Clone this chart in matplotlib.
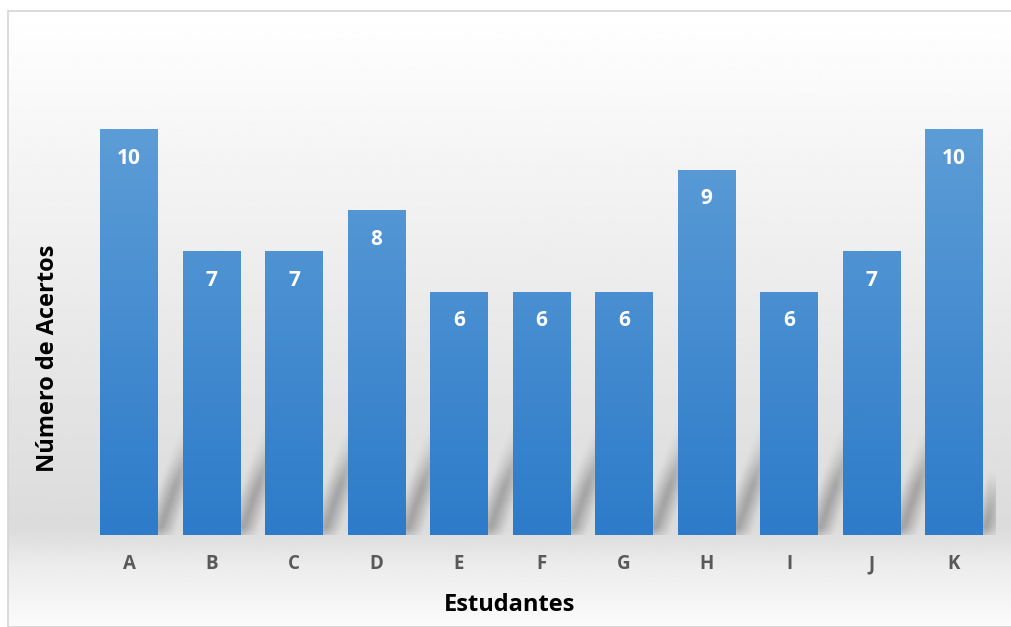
"""Bar chart: número de acertos por estudante."""

import matplotlib

matplotlib.use("Agg")
import matplotlib.pyplot as plt
import numpy as np
from matplotlib.colors import LinearSegmentedColormap
from matplotlib.patches import Rectangle

students = ["A", "B", "C", "D", "E", "F", "G", "H", "I", "J", "K"]
hits = [10, 7, 7, 8, 6, 6, 6, 9, 6, 7, 10]

plt.rcParams["font.family"] = ["Open Sans", "DejaVu Sans"]

BAR_TOP = np.array([93, 157, 215]) / 255
BAR_BOTTOM = np.array([45, 123, 201]) / 255
BAR_WIDTH = 0.70


def box_blur(arr, k):
    kernel = np.ones(k) / k
    arr = np.apply_along_axis(lambda r: np.convolve(r, kernel, mode="same"), 1, arr)
    arr = np.apply_along_axis(lambda c: np.convolve(c, kernel, mode="same"), 0, arr)
    return arr


fig = plt.figure(figsize=(10.11, 6.27), dpi=100, facecolor="white")

# background gradient inside the chart frame
bg_ax = fig.add_axes([8 / 1011, 0, 1 - 8 / 1011, 1 - 11 / 627], zorder=0)
ys = np.linspace(0, 1, 400)  # 0 = top, 1 = bottom
stops_y = [0.0, 0.2, 0.38, 0.68, 0.84, 0.9, 1.0]
stops_v = [1.0, 0.965, 0.935, 0.885, 0.86, 0.925, 0.985]
grad = np.interp(ys, stops_y, stops_v)
bg_ax.imshow(grad[:, None], aspect="auto", cmap="gray", vmin=0, vmax=1,
             extent=[0, 1, 0, 1], interpolation="bilinear")
bg_ax.set_xlim(0, 1)
bg_ax.set_ylim(0, 1)
bg_ax.axis("off")
fig.patches.append(Rectangle((8 / 1011, 0), 1, 1 - 11 / 627, transform=fig.transFigure,
                             fill=False, edgecolor="#d4d4d4", linewidth=1.2, zorder=1))

ax = fig.add_axes([87.75 / 1011, 92 / 627, 907.5 / 1011, 487 / 627], zorder=2)
ax.patch.set_alpha(0)
x = np.arange(len(students))
ax.set_xlim(-0.5, len(students) - 0.5)
ax.set_ylim(0, 12)

# soft slanted shadow band to the right of each bar
nx, ny = 900, 480
gx = np.linspace(-0.5, len(students) - 0.5, nx)
gy = np.linspace(0, 12, ny)
X, Y = np.meshgrid(gx, gy)
band_h, slope, half_w = 2.8, 0.17, 0.10
alpha = np.zeros_like(X)
for xi in x:
    edge = xi + BAR_WIDTH / 2 + slope * Y
    inside = (Y <= band_h) & (np.abs(X - edge) <= half_w)
    fade = np.clip((band_h - Y) / band_h * 1.8, 0, 1)
    alpha = np.maximum(alpha, inside * fade * 0.40)
alpha = box_blur(alpha, 15)
shadow = np.zeros((ny, nx, 4))
shadow[..., :3] = 0.3
shadow[..., 3] = alpha
ax.imshow(shadow, origin="lower", aspect="auto", extent=[-0.5, len(students) - 0.5, 0, 12],
          zorder=1, interpolation="bilinear")

bars = ax.bar(x, hits, width=BAR_WIDTH, color=BAR_TOP, zorder=2, linewidth=0)
cmap = LinearSegmentedColormap.from_list("bar", [BAR_BOTTOM, BAR_TOP])
for bar in bars:
    bx, by = bar.get_x(), bar.get_y()
    bw, bh = bar.get_width(), bar.get_height()
    img = ax.imshow(np.linspace(0, bh / 10, 256)[:, None], cmap=cmap, vmin=0, vmax=1,
                    origin="lower", aspect="auto", extent=[bx, bx + bw, by, by + bh],
                    zorder=3, interpolation="bilinear")
    img.set_clip_path(bar)

for xi, v in zip(x, hits):
    ax.annotate(str(v), (xi, v), xytext=(0, -21), textcoords="offset points",
                ha="center", va="center", color="white", fontsize=15,
                fontweight="bold", zorder=4)

ax.set_xlim(-0.5, len(students) - 0.5)
ax.set_ylim(0, 12)
ax.set_xticks(x)
ax.set_xticklabels(students, fontsize=13.5, fontweight="bold", color="#595959")
ax.tick_params(axis="x", length=0, pad=14)
ax.set_yticks([])
for spine in ax.spines.values():
    spine.set_visible(False)

fig.text(510 / 1011, 1 - 605 / 627, "Estudantes", ha="center", va="center",
         fontsize=17, fontweight="bold", color="black")
fig.text(48 / 1011, 1 - 358 / 627, "Número de Acertos", ha="center", va="center",
         rotation=90, fontsize=17, fontweight="bold", color="black")

fig.savefig("out.png", dpi=100, facecolor="white")
